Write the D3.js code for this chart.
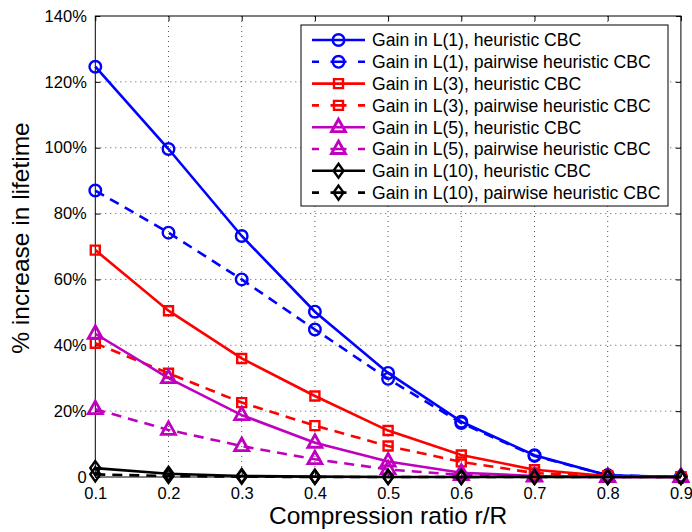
<!DOCTYPE html>
<html>
<head>
<meta charset="utf-8">
<script src="https://cdn.jsdelivr.net/npm/d3@7"></script>
<style>
  body { margin: 0; background: #fff; }
  svg { display: block; font-family: "Liberation Sans", Arial, Helvetica, sans-serif; }
</style>
</head>
<body>
<svg id="chart" width="692" height="532"></svg>
<script>
// Compression ratios on the x axis
const ratios = [0.1, 0.2, 0.3, 0.4, 0.5, 0.6, 0.7, 0.8, 0.9];

// Percentage gain in lifetime for each network size L(n)
const gainL1Heuristic = [124.6, 99.6, 73.2, 50.2, 31.6, 16.8, 6.6, 0.5, 0];
const gainL1Pairwise  = [87.0, 74.2, 60.0, 44.8, 29.8, 16.4, 6.4, 0.5, 0];
const gainL3Heuristic = [68.9, 50.5, 36.0, 24.6, 14.1, 6.7, 2.2, 0.3, 0];
const gainL3Pairwise  = [40.6, 31.5, 22.6, 15.6, 9.4, 4.6, 1.2, 0.2, 0];
const gainL5Heuristic = [43.5, 30.0, 18.8, 10.4, 4.7, 1.3, 0.3, 0, 0];
const gainL5Pairwise  = [20.6, 14.3, 9.4, 5.4, 2.3, 0.6, 0.1, 0, 0];
const gainL10Heuristic = [2.7, 1.0, 0.3, 0.1, 0, 0, 0, 0, 0];
const gainL10Pairwise  = [0.8, 0.3, 0.1, 0, 0, 0, 0, 0, 0];

const yTicks = [0, 20, 40, 60, 80, 100, 120, 140];
const xTicks = ratios;

const seriesNames = [
  "Gain in L(1), heuristic CBC",
  "Gain in L(1), pairwise heuristic CBC",
  "Gain in L(3), heuristic CBC",
  "Gain in L(3), pairwise heuristic CBC",
  "Gain in L(5), heuristic CBC",
  "Gain in L(5), pairwise heuristic CBC",
  "Gain in L(10), heuristic CBC",
  "Gain in L(10), pairwise heuristic CBC"
];
const seriesValues = [gainL1Heuristic, gainL1Pairwise, gainL3Heuristic, gainL3Pairwise,
                      gainL5Heuristic, gainL5Pairwise, gainL10Heuristic, gainL10Pairwise];
const seriesColors = ["#0000ff", "#0000ff", "#ff0000", "#ff0000", "#bf00bf", "#bf00bf", "#000000", "#000000"];
const seriesMarkers = ["circle", "circle", "square", "square", "triangle", "triangle", "diamond", "diamond"];
const seriesDashed = [false, true, false, true, false, true, false, true];

const svg = d3.select("#chart");
const plotLeft = 95.3, plotRight = 680.9, plotTop = 16, plotBottom = 477;

const x = d3.scaleLinear().domain([0.1, 0.9]).range([plotLeft, plotRight]);
const y = d3.scaleLinear().domain([0, 140]).range([plotBottom, plotTop]);

// dotted grid
const grid = svg.append("g");
grid.selectAll("line.gx").data(xTicks.slice(1, -1)).enter().append("line")
  .attr("x1", d => x(d)).attr("x2", d => x(d)).attr("y1", plotTop).attr("y2", plotBottom)
  .attr("stroke", "#555").attr("stroke-width", 1).attr("stroke-dasharray", "1,4");
grid.selectAll("line.gy").data(yTicks.slice(1, -1)).enter().append("line")
  .attr("x1", plotLeft).attr("x2", plotRight).attr("y1", d => y(d)).attr("y2", d => y(d))
  .attr("stroke", "#555").attr("stroke-width", 1).attr("stroke-dasharray", "1,4");

// axes with inward ticks
const yFmt = d => d === 0 ? "0" : d + "%";
const axisStyle = g => {
  g.select(".domain").remove();
  g.selectAll("text").attr("font-size", 16.5).attr("fill", "#000")
    .attr("font-family", "'Liberation Sans', Arial, sans-serif");
  g.selectAll("line").attr("stroke", "#000");
};
svg.append("g").attr("transform", `translate(0,${plotBottom})`)
  .call(d3.axisBottom(x).tickValues(xTicks).tickFormat(d3.format(".1f")).tickSizeInner(-5).tickSizeOuter(0).tickPadding(10))
  .call(axisStyle);
svg.append("g").attr("transform", `translate(${plotLeft},0)`)
  .call(d3.axisLeft(y).tickValues(yTicks).tickFormat(yFmt).tickSizeInner(-5).tickSizeOuter(0).tickPadding(8.5))
  .call(axisStyle);
svg.append("g").attr("transform", `translate(0,${plotTop})`)
  .call(d3.axisTop(x).tickValues(xTicks).tickFormat("").tickSizeInner(-5).tickSizeOuter(0))
  .call(axisStyle);
svg.append("g").attr("transform", `translate(${plotRight},0)`)
  .call(d3.axisRight(y).tickValues(yTicks).tickFormat("").tickSizeInner(-5).tickSizeOuter(0))
  .call(axisStyle);

// plot frame
svg.append("rect").attr("x", plotLeft).attr("y", plotTop).attr("width", plotRight - plotLeft).attr("height", plotBottom - plotTop)
  .attr("fill", "none").attr("stroke", "#000").attr("stroke-width", 1);

// marker shapes
function markerPath(type) {
  switch (type) {
    case "circle": return d3.symbol(d3.symbolCircle, 105)();
    case "square": return "M-4.5,-4.5H4.5V4.5H-4.5Z";
    case "triangle": return "M0,-8L7,4.5H-7Z";
    case "diamond": return "M0,-7L5,0L0,7L-5,0Z";
  }
}
const markerWidth = { circle: 2.4, square: 2.4, triangle: 2.8, diamond: 2.4 };

const line = d3.line().x((d, i) => x(ratios[i])).y(d => y(d));
const plot = svg.append("g");
seriesValues.forEach((vals, s) => {
  const g = plot.append("g");
  g.append("path").datum(vals).attr("d", line)
    .attr("fill", "none").attr("stroke", seriesColors[s]).attr("stroke-width", 2.6)
    .attr("stroke-dasharray", seriesDashed[s] ? "10,7" : null);
  g.selectAll("path.m").data(vals).enter().append("path")
    .attr("d", markerPath(seriesMarkers[s]))
    .attr("transform", (d, i) => `translate(${x(ratios[i])},${y(d)})`)
    .attr("fill", "none").attr("stroke", seriesColors[s])
    .attr("stroke-width", markerWidth[seriesMarkers[s]]);
});

// legend
const lg = svg.append("g");
const lx = 301, ly = 25, lw = 367, lh = 181, rowH = 21.8;
lg.append("rect").attr("x", lx).attr("y", ly).attr("width", lw).attr("height", lh)
  .attr("fill", "#fff").attr("stroke", "#000").attr("stroke-width", 1);
seriesNames.forEach((name, s) => {
  const cy = ly + 15 + s * rowH;
  lg.append("line").attr("x1", lx + 11).attr("x2", lx + 64).attr("y1", cy).attr("y2", cy)
    .attr("stroke", seriesColors[s]).attr("stroke-width", 2.6)
    .attr("stroke-dasharray", seriesDashed[s] ? "7,11.5,16,11.5,7" : null);
  lg.append("path").attr("d", markerPath(seriesMarkers[s]))
    .attr("transform", `translate(${lx + 37.5},${cy})`)
    .attr("fill", "none").attr("stroke", seriesColors[s])
    .attr("stroke-width", markerWidth[seriesMarkers[s]]);
  lg.append("text").attr("x", lx + 71).attr("y", cy).attr("dy", "0.36em")
    .attr("font-size", 17.6).attr("fill", "#000").text(name);
});

// axis titles
svg.append("text").attr("x", (plotLeft + plotRight) / 2).attr("y", 524).attr("text-anchor", "middle")
  .attr("font-size", 24.5).attr("fill", "#000").text("Compression ratio r/R");
svg.append("text").attr("transform", `translate(29,238) rotate(-90)`)
  .attr("text-anchor", "middle").attr("font-size", 24.5).attr("fill", "#000").text("% increase in lifetime");
</script>
</body>
</html>
